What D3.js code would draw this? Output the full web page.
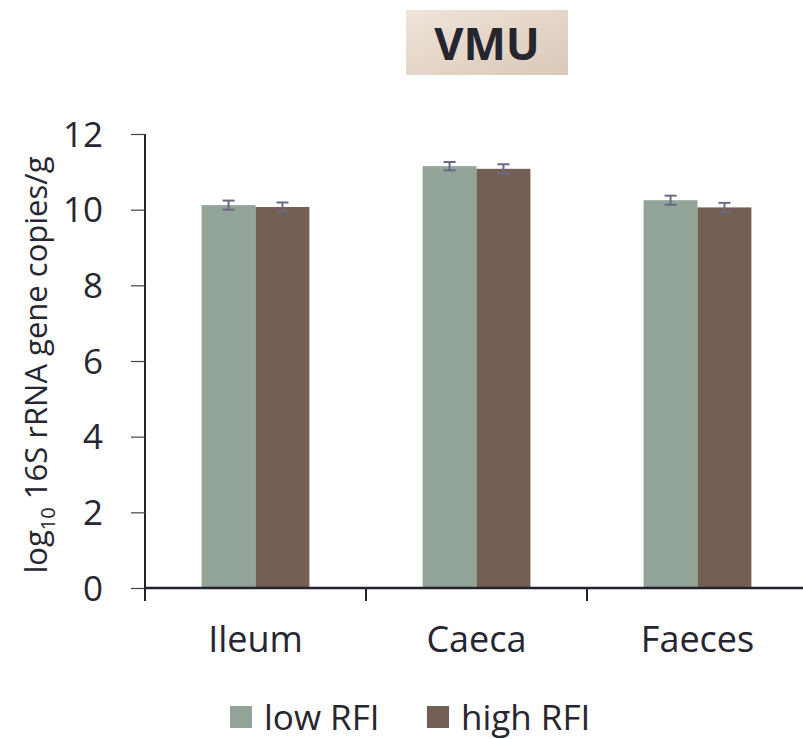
<!DOCTYPE html>
<html>
<head>
<meta charset="utf-8">
<script src="https://cdn.jsdelivr.net/npm/d3@7"></script>
<style>
  html, body { margin: 0; padding: 0; background: #fff; overflow: hidden; }
  svg { display: block; }
  text { font-family: "Open Sans", "Noto Sans", sans-serif; fill: #262630; }
</style>
</head>
<body>
<svg width="803" height="739"></svg>
<script>
const categories = ["Ileum", "Caeca", "Faeces"];
const seriesNames = ["low RFI", "high RFI"];
const lowRFI = [10.12, 11.15, 10.25];
const highRFI = [10.07, 11.08, 10.06];
const lowErr = [0.12, 0.11, 0.12];
const highErr = [0.12, 0.12, 0.12];
const yTicks = [0, 2, 4, 6, 8, 10, 12];
const colors = ["#92a397", "#735f54"];

const svg = d3.select("svg");
const margin = { top: 134, right: 0, bottom: 151, left: 145 };
const height = +svg.attr("height");
const innerWidth = 658;
const innerHeight = height - margin.top - margin.bottom;

const data = categories.map((c, i) => ({
  cat: c,
  vals: [
    { s: seriesNames[0], v: lowRFI[i], e: lowErr[i] },
    { s: seriesNames[1], v: highRFI[i], e: highErr[i] }
  ]
}));

// title box
const defs = svg.append("defs");
const grad = defs.append("linearGradient").attr("id", "tg")
  .attr("x1", "0%").attr("y1", "0%").attr("x2", "100%").attr("y2", "100%");
grad.append("stop").attr("offset", "0%").attr("stop-color", "#eee4da");
grad.append("stop").attr("offset", "100%").attr("stop-color", "#dac8b7");
svg.append("rect").attr("x", 406).attr("y", 10).attr("width", 162).attr("height", 65)
  .attr("fill", "url(#tg)");
svg.append("text").attr("x", 487).attr("y", 60).attr("text-anchor", "middle")
  .attr("font-size", 45).attr("font-weight", "bold").text("VMU");

const x = d3.scaleBand().domain(categories).range([0, 663]);
const xInner = d3.scaleBand().domain(seriesNames)
  .range([0, x.bandwidth()]).paddingOuter(1.05);
const y = d3.scaleLinear().domain([0, 12]).range([innerHeight, 0]);

const g = svg.append("g").attr("transform", `translate(${margin.left},${margin.top})`);

// bars
const groups = g.selectAll(".grp").data(data).join("g")
  .attr("transform", (d) => `translate(${x(d.cat)},0)`);
groups.selectAll("rect").data((d) => d.vals).join("rect")
  .attr("x", (d) => xInner(d.s))
  .attr("width", xInner.bandwidth())
  .attr("y", (d) => y(d.v))
  .attr("height", (d) => innerHeight - y(d.v))
  .attr("fill", (d, i) => colors[i]);

// error bars
const eb = groups.selectAll(".eb").data((d) => d.vals).join("g")
  .attr("stroke", "#6a6a86").attr("stroke-width", 2);
const cx = (d) => xInner(d.s) + xInner.bandwidth() / 2;
eb.append("line")
  .attr("x1", cx).attr("x2", cx)
  .attr("y1", (d) => y(d.v + d.e)).attr("y2", (d) => y(d.v - d.e));
eb.append("line")
  .attr("x1", (d) => cx(d) - 6).attr("x2", (d) => cx(d) + 6)
  .attr("y1", (d) => y(d.v + d.e)).attr("y2", (d) => y(d.v + d.e));
eb.append("line")
  .attr("x1", (d) => cx(d) - 6).attr("x2", (d) => cx(d) + 6)
  .attr("y1", (d) => y(d.v - d.e)).attr("y2", (d) => y(d.v - d.e));

// y axis
const yAxisG = g.append("g").call(
  d3.axisLeft(y).tickValues(yTicks).tickSize(14).tickPadding(28)
);
yAxisG.attr("font-size", null).attr("font-family", null)
  .attr("text-anchor", null).attr("fill", null);
yAxisG.select(".domain").attr("stroke", "#222230").attr("stroke-width", 2)
  .attr("d", `M0,${innerHeight}V0`);
yAxisG.selectAll(".tick line").attr("stroke", "#444").attr("stroke-width", 1.2);
yAxisG.selectAll(".tick text").attr("fill", "#262630").attr("font-size", 35)
  .attr("text-anchor", "end").attr("dy", 12);

// x axis
const xAxisG = g.append("g").attr("transform", `translate(0,${innerHeight})`)
  .call(d3.axisBottom(x).tickSize(0).tickPadding(38));
xAxisG.attr("font-size", null).attr("font-family", null)
  .attr("text-anchor", null).attr("fill", null);
xAxisG.select(".domain").attr("stroke", "#222230").attr("stroke-width", 2.5)
  .attr("fill", "none").attr("d", `M0,0H${innerWidth}`);
xAxisG.selectAll(".tick text").attr("fill", "#262630").attr("font-size", 36)
  .attr("text-anchor", "middle").attr("dy", null).attr("y", 64);
xAxisG.selectAll(".sep").data(d3.range(categories.length)).join("line")
  .attr("x1", (i) => i * x.step()).attr("x2", (i) => i * x.step())
  .attr("y1", 0).attr("y2", 13)
  .attr("stroke", "#222230").attr("stroke-width", 2);

// y axis title
const yt = svg.append("text")
  .attr("transform", `translate(47,365) rotate(-90)`)
  .attr("text-anchor", "middle").attr("font-size", 31);
yt.append("tspan").text("log");
yt.append("tspan").attr("dy", 8).attr("font-size", 20).text("10");
yt.append("tspan").attr("dy", -8).text(" 16S rRNA gene copies/g");

// legend
const legendX = [230, 427];
const lg = svg.selectAll(".lg").data(seriesNames).join("g")
  .attr("transform", (d, i) => `translate(${legendX[i]},706)`);
lg.append("rect").attr("width", 22).attr("height", 22).attr("fill", (d, i) => colors[i]);
lg.append("text").attr("x", 34).attr("y", 24).attr("font-size", 35).text((d) => d);
</script>
</body>
</html>
